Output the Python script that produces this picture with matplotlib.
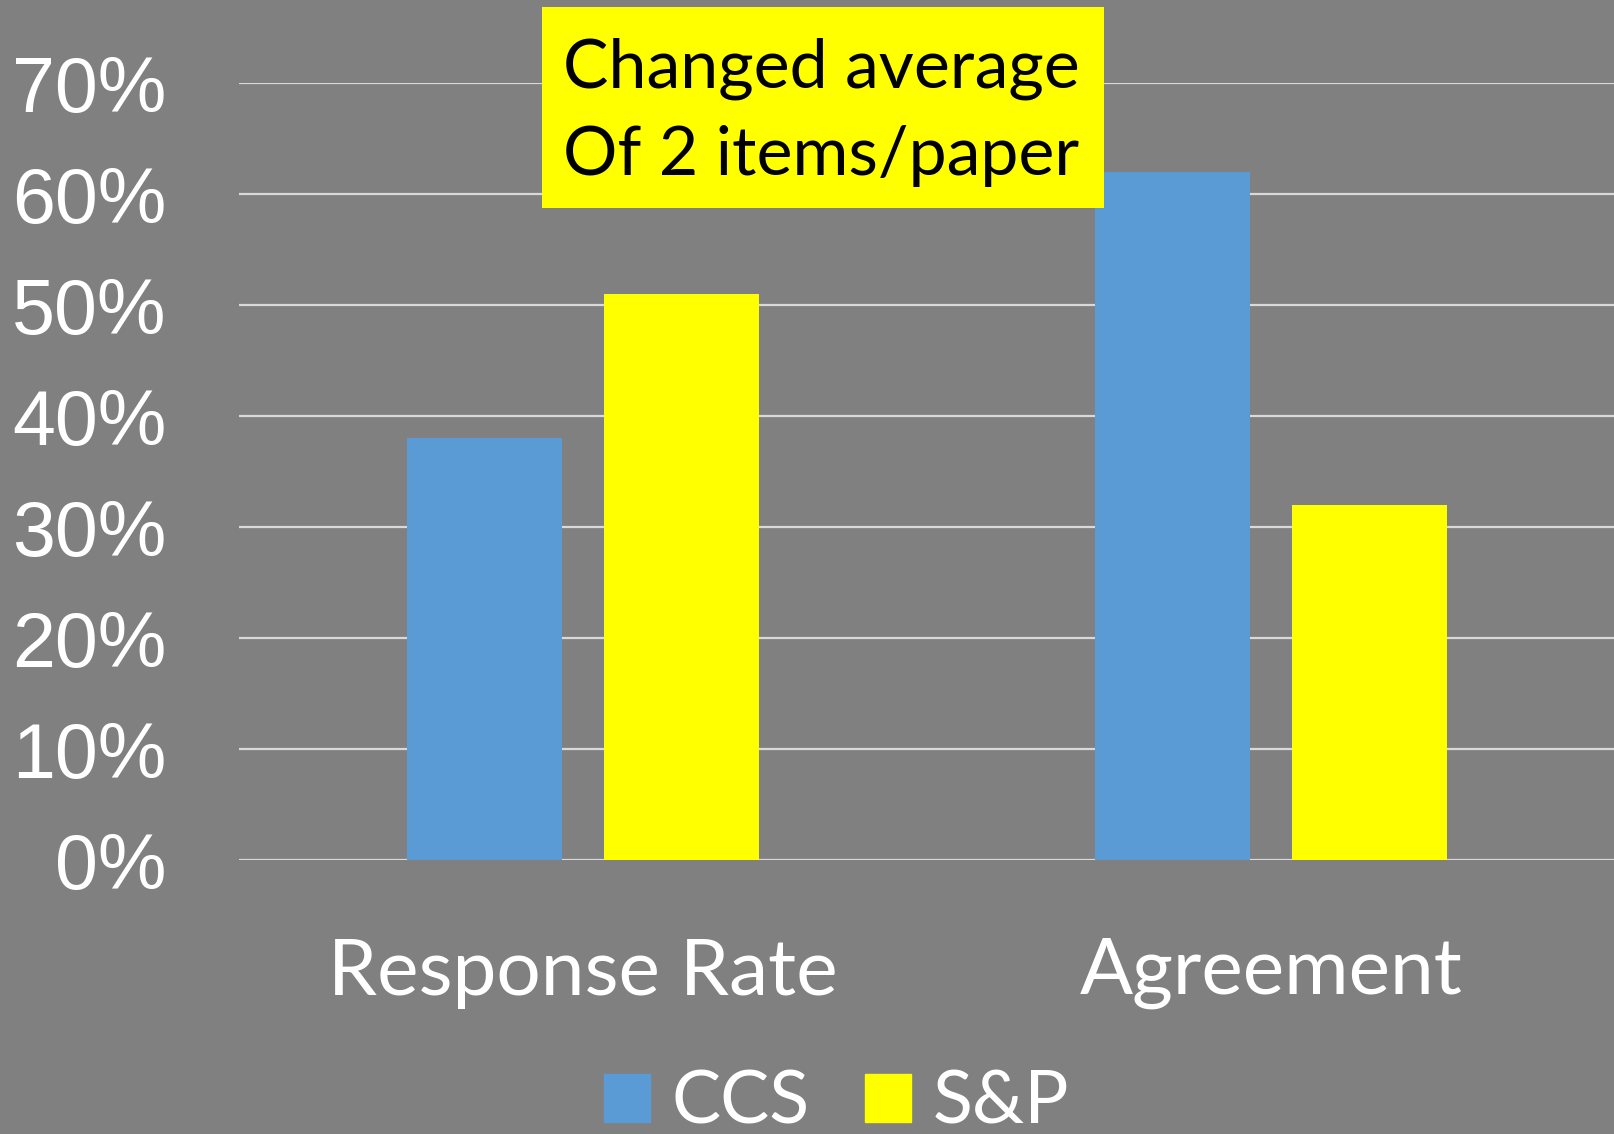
import matplotlib
matplotlib.use("Agg")
import matplotlib.pyplot as plt
from matplotlib.patches import Rectangle, Patch
import numpy as np

categories = ["Response Rate", "Agreement"]
ccs = [0.38, 0.62]
sp = [0.51, 0.32]
series_names = ["CCS", "S&P"]
yticks = [0, 0.1, 0.2, 0.3, 0.4, 0.5, 0.6, 0.7]
ytick_labels = ["0%", "10%", "20%", "30%", "40%", "50%", "60%", "70%"]
note_lines = ["Changed average", "Of 2 items/paper"]

bg = "#808080"
blue = "#5B9BD5"
yellow = "#FFFF00"
grid_col = "#D9D9D9"
cal = ["Lato", "DejaVu Sans"]
arial = ["Liberation Sans", "DejaVu Sans"]

fig = plt.figure(figsize=(16.15, 11.34), dpi=100, facecolor=bg)
ax = fig.add_axes([239 / 1615, 1 - 860 / 1134, 1 - 239 / 1615, (860 - 83.4) / 1134])
ax.set_facecolor(bg)

x = np.arange(len(categories))
w = 0.225
off = 0.143
ax.bar(x - off, ccs, w, color=blue, label=series_names[0])
ax.bar(x + off, sp, w, color=yellow, label=series_names[1])

ax.set_xlim(-0.5, 1.5)
ax.set_ylim(0, 0.7)
ax.set_axisbelow(True)
ax.yaxis.grid(True, color=grid_col, linewidth=1.6)
for s in ax.spines.values():
    s.set_visible(False)

ax.set_yticks(yticks)
ax.set_yticklabels(ytick_labels, fontsize=55.5, color="white", family=arial)
ax.tick_params(axis="y", length=0, pad=52)
ax.set_xticks(x)
ax.set_xticklabels(categories, fontsize=56.5, color="white", family=cal)
ax.tick_params(axis="x", length=0, pad=56)

handles = [Patch(color=blue), Patch(color=yellow)]
leg = fig.legend(handles, series_names, loc="center", bbox_to_anchor=(0.518, 0.027),
                 ncol=2, frameon=False, handlelength=0.62, handleheight=0.62,
                 handletextpad=0.3, columnspacing=0.75,
                 prop={"family": cal, "size": 53}, labelcolor="white", borderpad=0)

box = Rectangle((542 / 1615, 1 - 207.5 / 1134), (1104 - 542) / 1615, 200.5 / 1134,
                transform=fig.transFigure, facecolor=yellow, edgecolor="none", zorder=5)
fig.add_artist(box)
fig.text(563 / 1615, 1 - 87.5 / 1134, note_lines[0], fontsize=49, family=cal,
         color="black", va="baseline", ha="left", zorder=6)
fig.text(563 / 1615, 1 - 175 / 1134, note_lines[1], fontsize=49, family=cal,
         color="black", va="baseline", ha="left", zorder=6)

fig.savefig("out.png", dpi=100, facecolor=bg)
